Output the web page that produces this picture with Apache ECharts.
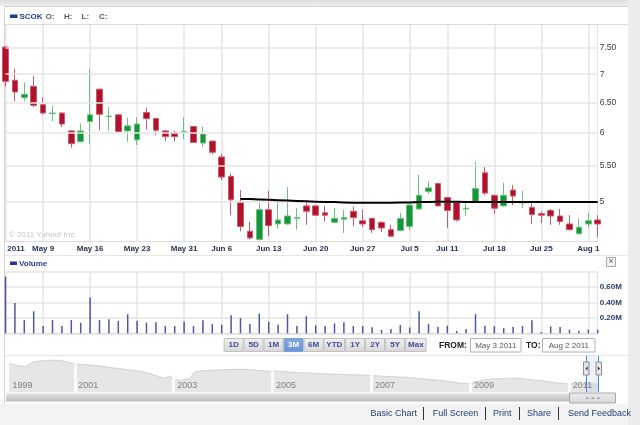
<!DOCTYPE html>
<html><head><meta charset="utf-8">
<script src="https://cdn.jsdelivr.net/npm/echarts@6/dist/echarts.min.js"></script>
<style>html,body{margin:0;padding:0;background:#fff;}#c{width:640px;height:425px;}</style>
</head><body><div id="c"></div>
<script>
const dates = ['May 3','May 4','May 5','May 6','May 9','May 10','May 11','May 12','May 13',
'May 16','May 17','May 18','May 19','May 20','May 23','May 24','May 25','May 26','May 27',
'May 31','Jun 1','Jun 2','Jun 3','Jun 6','Jun 7','Jun 8','Jun 9','Jun 10',
'Jun 13','Jun 14','Jun 15','Jun 16','Jun 17','Jun 20','Jun 21','Jun 22','Jun 23','Jun 24',
'Jun 27','Jun 28','Jun 29','Jun 30','Jul 1','Jul 5','Jul 6','Jul 7','Jul 8',
'Jul 11','Jul 12','Jul 13','Jul 14','Jul 15','Jul 18','Jul 19','Jul 20','Jul 21','Jul 22',
'Jul 25','Jul 26','Jul 27','Jul 28','Jul 29','Aug 1','Aug 2'];
const open  = [7.52,6.89,6.58,6.78,6.46,6.31,6.32,6.03,5.86,6.18,6.73,6.26,6.29,6.03,5.89,6.33,6.23,6.03,6.00,6.01,6.10,5.84,5.87,5.63,5.35,5.00,4.63,4.53,4.90,4.72,4.72,4.79,4.95,4.95,4.86,4.74,4.78,4.88,4.76,4.79,4.74,4.65,4.64,4.69,4.91,5.14,5.25,5.06,5.00,4.91,5.00,5.40,5.09,4.95,5.16,4.99,4.93,4.85,4.89,4.82,4.72,4.60,4.72,4.77];
const close = [6.87,6.68,6.64,6.45,6.32,6.32,6.14,5.83,6.03,6.29,6.30,6.27,6.02,6.11,6.14,6.23,6.04,5.94,5.94,6.02,5.85,5.98,5.70,5.34,5.03,4.69,4.55,4.90,4.70,4.77,4.82,4.80,4.88,4.83,4.83,4.79,4.80,4.80,4.72,4.65,4.67,4.57,4.79,4.96,5.09,5.19,4.95,4.89,4.77,4.92,5.18,5.12,4.92,5.09,5.08,5.00,4.84,4.83,4.82,4.75,4.65,4.68,4.76,4.72];
const low   = [6.78,6.52,6.52,6.42,6.30,6.19,6.09,5.77,5.85,5.83,6.04,6.04,6.01,5.86,5.81,6.05,5.96,5.87,5.87,5.90,5.84,5.78,5.67,5.30,4.83,4.63,4.53,4.52,4.57,4.66,4.71,4.65,4.71,4.82,4.75,4.73,4.61,4.69,4.68,4.61,4.62,4.56,4.63,4.64,4.90,5.11,4.94,4.67,4.75,4.82,4.99,5.09,4.85,4.94,4.96,4.92,4.72,4.73,4.71,4.71,4.64,4.59,4.68,4.56];
const high  = [7.53,7.10,6.85,6.97,6.59,6.44,6.33,6.04,6.15,7.09,6.74,6.42,6.30,6.24,6.25,6.41,6.24,6.04,6.03,6.25,6.11,6.10,5.88,5.68,5.39,5.16,4.75,5.00,5.15,5.01,5.20,4.92,5.00,4.96,4.95,4.92,4.90,4.94,4.90,4.80,4.75,4.71,4.86,4.98,5.37,5.28,5.26,5.07,5.01,4.98,5.56,5.49,5.10,5.26,5.23,5.15,4.98,4.88,4.91,4.91,4.83,4.79,4.86,4.83];
const volumeM = [0.735,0.393,0.171,0.286,0.094,0.171,0.094,0.171,0.137,0.466,0.171,0.184,0.162,0.248,0.162,0.137,0.145,0.094,0.094,0.150,0.094,0.171,0.120,0.111,0.235,0.197,0.120,0.256,0.150,0.111,0.248,0.094,0.222,0.103,
0.094,0.128,0.145,0.094,0.094,0.077,0.043,0.056,0.107,0.077,0.286,0.120,0.081,0.098,0.030,0.056,0.248,0.098,0.094,0.068,0.081,0.094,0.171,0.017,0.090,0.081,0.047,0.030,0.047,0.047];
const avgLine = [null,null,null,null,null,null,null,null,null,null,null,null,null,null,null,null,null,null,null,null,null,null,null,null,null,
5.04,5.04,5.035,5.03,5.025,5.02,5.015,5.01,5.005,5.0,5.0,4.995,4.99,4.99,4.99,4.99,4.99,4.995,4.995,5.0,5.0,5.005,5.005,5.005,5.0,5.0,5.0,5.0,5.0,5.0,5.0,5.0,5.0,5.0,5.0,5.0,5.0,5.0,5.0];
const tickDates  = ['May 3','May 9','May 16','May 23','May 31','Jun 6','Jun 13','Jun 20','Jun 27','Jul 5','Jul 11','Jul 18','Jul 25','Aug 1'];
const tickLabels = ['2011','May 9','May 16','May 23','May 31','Jun 6','Jun 13','Jun 20','Jun 27','Jul 5','Jul 11','Jul 18','Jul 25','Aug 1'];
const priceTicks = [5, 5.5, 6, 6.5, 7, 7.5];
const navYears = [1999.67,1999.79,1999.99,2000.15,2000.29,2000.49,2000.70,2000.80,2000.98,2001.10,2001.30,2001.51,2001.71,2001.91,2002.11,2002.31,2002.52,2002.62,2002.72,2002.82,2002.92,2003.02,2003.16,2003.32,2003.42,2003.53,2003.73,2003.93,2004.13,2004.33,2004.54,2004.74,2004.94,2005.14,2005.34,2005.55,2005.75,2005.95,2006.15,2006.35,2006.56,2006.76,2006.96,2007.16,2007.36,2007.57,2007.77,2007.97,2008.17,2008.37,2008.58,2008.78,2008.94,2009.08,2009.28,2009.48,2009.69,2009.89,2010.09,2010.29,2010.49,2010.70,2010.90,2011.10,2011.30,2011.51,2011.58];
const navValues = [28.3,27,25,30,31,31.7,31.5,30.7,28.3,27.7,27,26,24.5,23.3,22,20.7,18.5,16.7,15,14,16,12,12,13.3,20,21,21.7,22,22.5,22.7,22.5,21.5,20.7,20.7,20,19.3,19,18.3,18,17.7,17.2,17,16.7,16,15.5,15,14.5,13.5,12.5,11.7,10.5,9,8.3,10,12,13,13.5,14,13,12,11,9.5,8.3,8,8,8,8];
const navSeparators = [2001,2003,2005,2007,2009,2011];
const navLabelYears = [1999.67,2001,2003,2005,2007,2009,2011];
const rangeButtons = ['1D','5D','1M','3M','6M','YTD','1Y','2Y','5Y','Max'];
const activeRange = '3M';
const fromText = 'May 3 2011', toText = 'Aug 2 2011';
const links = ['Basic Chart','Full Screen','Print','Share','Send Feedback'];

const FONT = '"Liberation Sans", Arial, sans-serif';
const showTick = (i, v) => tickDates.indexOf(v === undefined ? dates[i] : v) >= 0;
const fmtPrice = v => (Math.abs(v - Math.round(v)) < 1e-9 ? String(Math.round(v)) : v.toFixed(2));

const chart = echarts.init(document.getElementById('c'), null, {renderer: 'canvas'});

// ---------- decorative page elements ----------
const g = [];
g.push({type:'rect', shape:{x:0,y:0,width:640,height:6.5}, style:{fill:new echarts.graphic.LinearGradient(0,0,0,1,[{offset:0,color:'#dedede'},{offset:1,color:'#f0f0f0'}])}, z:-10});
g.push({type:'rect', shape:{x:628,y:0,width:12,height:425}, style:{fill:'#ececec'}, z:-10});
g.push({type:'rect', shape:{x:0,y:404,width:628,height:21}, style:{fill:'#f3f3f3'}, z:-10});
g.push({type:'line', shape:{x1:4.5,y1:6.5,x2:4.5,y2:404}, style:{stroke:'#d3d3d3',lineWidth:1}, z:-5});
g.push({type:'line', shape:{x1:4.5,y1:6.5,x2:628,y2:6.5}, style:{stroke:'#d3d3d3',lineWidth:1}, z:-5});
g.push({type:'line', shape:{x1:5,y1:24.5,x2:628,y2:24.5}, style:{stroke:'#dadada',lineWidth:1}, z:-5});
g.push({type:'line', shape:{x1:5,y1:255.5,x2:628,y2:255.5}, style:{stroke:'#e6e6e6',lineWidth:1}, z:-5});
g.push({type:'line', shape:{x1:5,y1:355.5,x2:628,y2:355.5}, style:{stroke:'#e2e2e2',lineWidth:1}, z:-5});
// legend
g.push({type:'rect', shape:{x:10,y:14.5,width:7.5,height:3.5}, style:{fill:'#26368c'}});
g.push({type:'text', x:19.5, y:16.5, style:{text:'SCOK', fill:'#2b3d92', font:'bold 8px '+FONT, verticalAlign:'middle'}});
[['O:',45.5],['H:',64],['L:',81.5],['C:',99]].forEach(a => g.push({type:'text', x:a[1], y:16.5, style:{text:a[0], fill:'#5a5a5a', font:'bold 8px '+FONT, verticalAlign:'middle'}}));
g.push({type:'text', x:9, y:235, style:{text:'\u00a9 2011 Yahoo! Inc.', fill:'#c4c4c4', font:'8px '+FONT, verticalAlign:'middle'}});
// volume header
g.push({type:'rect', shape:{x:10,y:261.5,width:7,height:3.5}, style:{fill:'#26368c'}});
g.push({type:'text', x:19, y:263.5, style:{text:'Volume', fill:'#2b3d92', font:'bold 8px '+FONT, verticalAlign:'middle'}});
g.push({type:'rect', shape:{x:606.5,y:257.5,width:9,height:9}, style:{fill:'#f4f4f4', stroke:'#a9a9a9', lineWidth:1}});
g.push({type:'text', x:611, y:262, style:{text:'\u00d7', fill:'#666', font:'9px '+FONT, align:'center', verticalAlign:'middle'}});
// range buttons
let bx = 223.6;
rangeButtons.forEach(lbl => {
  const w = lbl.length === 3 ? 21.5 : 20;
  const act = lbl === activeRange;
  g.push({type:'rect', shape:{x:bx+0.5,y:338.5,width:w-1,height:13}, style:{
    fill: act ? new echarts.graphic.LinearGradient(0,0,0,1,[{offset:0,color:'#86acdf'},{offset:1,color:'#6792d2'}])
              : new echarts.graphic.LinearGradient(0,0,0,1,[{offset:0,color:'#f2f2f2'},{offset:1,color:'#d6d6d6'}]),
    stroke: act ? '#7a9fd6' : '#c2c2c2', lineWidth:1}});
  g.push({type:'text', x:bx+w/2, y:345.2, style:{text:lbl, fill: act ? '#ffffff' : '#3b4d9c', font:'bold 8px '+FONT, align:'center', verticalAlign:'middle'}});
  bx += w;
});
g.push({type:'text', x:439, y:345.2, style:{text:'FROM:', fill:'#222', font:'bold 8.5px '+FONT, verticalAlign:'middle'}});
g.push({type:'rect', shape:{x:470.5,y:338.5,width:50.5,height:13.5}, style:{fill:'#fff', stroke:'#b3b3b3', lineWidth:1}});
g.push({type:'text', x:495.8, y:345.4, style:{text:fromText, fill:'#555', font:'8px '+FONT, align:'center', verticalAlign:'middle'}});
g.push({type:'text', x:526, y:345.2, style:{text:'TO:', fill:'#222', font:'bold 8.5px '+FONT, verticalAlign:'middle'}});
g.push({type:'rect', shape:{x:542.5,y:338.5,width:52.5,height:13.5}, style:{fill:'#fff', stroke:'#b3b3b3', lineWidth:1}});
g.push({type:'text', x:568.8, y:345.4, style:{text:toText, fill:'#555', font:'8px '+FONT, align:'center', verticalAlign:'middle'}});
// navigator scrollbar and handles
g.push({type:'rect', shape:{x:6,y:392.5,width:592,height:9}, style:{fill:new echarts.graphic.LinearGradient(0,0,0,1,[{offset:0,color:'#f4f4f4'},{offset:0.3,color:'#d9d9d9'},{offset:1,color:'#bcbcbc'}])}});
g.push({type:'rect', shape:{x:587,y:356,width:11.5,height:36}, style:{fill:'rgba(120,160,225,0.13)'}, z:5});
g.push({type:'line', shape:{x1:586.5,y1:356,x2:586.5,y2:392}, style:{stroke:'#3c8ee8',lineWidth:1}, z:6});
g.push({type:'line', shape:{x1:598.5,y1:356,x2:598.5,y2:392}, style:{stroke:'#3c8ee8',lineWidth:1}, z:6});
g.push({type:'rect', shape:{x:583.5,y:362,width:5.5,height:13}, style:{fill:'#e6e6e6', stroke:'#8e8e8e', lineWidth:1}, z:7});
g.push({type:'rect', shape:{x:596,y:362,width:5.5,height:13}, style:{fill:'#e6e6e6', stroke:'#8e8e8e', lineWidth:1}, z:7});
g.push({type:'polygon', shape:{points:[[587.5,366.5],[587.5,370.5],[585.3,368.5]]}, style:{fill:'#333'}, z:8});
g.push({type:'polygon', shape:{points:[[597.8,366.5],[597.8,370.5],[600,368.5]]}, style:{fill:'#333'}, z:8});
g.push({type:'rect', shape:{x:569.5,y:393,width:46,height:10}, style:{fill:new echarts.graphic.LinearGradient(0,0,0,1,[{offset:0,color:'#ececec'},{offset:1,color:'#d6d6d6'}]), stroke:'#a9a9a9', lineWidth:1}, z:7});
[586,591.5,597].forEach(x => g.push({type:'rect', shape:{x:x,y:397.5,width:2.5,height:1.5}, style:{fill:'#9a9a9a'}, z:8}));
// bottom links
const linkX = [370.5, 432.8, 493, 527, 568];
const sepX = [423.5, 485.5, 519.5, 558.5];
links.forEach((t,i) => g.push({type:'text', x:linkX[i], y:413.5, style:{text:t, fill:'#1f3d78', font:'9px '+FONT, verticalAlign:'middle'}}));
sepX.forEach(x => g.push({type:'line', shape:{x1:x,y1:407,x2:x,y2:420}, style:{stroke:'#333',lineWidth:1}}));

const gridLine = {color:'#e4e4e4', width:1.5};

const option = {
  animation: false,
  backgroundColor: '#ffffff',
  grid: [
    {left:5.5, right:42.3, top:25, height:216},
    {left:5.5, right:42.3, top:271.7, height:61.6},
    {left:9, right:42, top:356, height:36}
  ],
  xAxis: [
    {type:'category', gridIndex:0, data:dates, boundaryGap:false,
     axisLine:{show:true, lineStyle:{color:'#dcdcdc', width:1}}, axisTick:{show:false, interval:showTick},
     axisLabel:{interval:showTick, margin:4, fontSize:8, fontWeight:'bold', color:'#1f2e55', fontFamily:FONT,
       formatter:(v) => { const k = tickDates.indexOf(v); const s = tickLabels[k]; return k === 0 ? '{f|' + s + '}' : s; },
       rich:{f:{padding:[0,0,0,21], fontSize:8, fontWeight:'bold', color:'#1f2e55', fontFamily:FONT}}},
     splitLine:{show:true, interval:showTick, lineStyle:gridLine}},
    {type:'category', gridIndex:1, data:dates, boundaryGap:false,
     axisLine:{show:true, lineStyle:{color:'#dcdcdc', width:1}}, axisTick:{show:false, interval:showTick}, axisLabel:{show:false, interval:showTick},
     splitLine:{show:true, interval:showTick, lineStyle:gridLine}},
    {type:'value', gridIndex:2, min:1999.67, max:2011.58, z:10,
     axisLine:{show:false}, axisTick:{show:false},
     axisLabel:{show:true, inside:true, customValues:navLabelYears, formatter:(v) => String(Math.floor(v)),
       align:'left', padding:[0,0,0,3.5], margin:2, fontSize:9, color:'#808080', fontFamily:FONT},
     splitLine:{show:false}}
  ],
  yAxis: [
    {type:'log', gridIndex:0, min:4.513, max:7.968, position:'right',
     axisLine:{show:true, lineStyle:{color:'#e2e2e2'}}, axisTick:{show:false}, axisLabel:{show:false}, splitLine:{show:false}},
    {type:'value', gridIndex:1, min:0, max:0.8, interval:0.2, position:'right',
     axisLine:{show:true, lineStyle:{color:'#e2e2e2'}}, axisTick:{show:false},
     axisLabel:{showMinLabel:false, showMaxLabel:false, margin:2, fontSize:8, fontWeight:'bold', color:'#2b3a66', fontFamily:FONT,
       formatter:(v) => v.toFixed(2) + 'M'},
     splitLine:{show:true, lineStyle:gridLine}},
    {type:'value', gridIndex:2, min:0, max:36, show:false}
  ],
  series: [
    {type:'line', xAxisIndex:0, yAxisIndex:0, data:dates.map(() => null), z:1, silent:true, symbol:'none',
     markLine:{silent:true, symbol:['none','none'], animation:false,
       lineStyle:{color:'#e4e4e4', width:1.5, type:'solid'},
       label:{position:'end', distance:2, formatter:(p) => fmtPrice(p.value), color:'#3a3a3a', fontSize:8.5, fontFamily:FONT},
       emphasis:{disabled:true},
       data:priceTicks.map(v => ({yAxis:v}))}},
    {type:'candlestick', xAxisIndex:0, yAxisIndex:0, z:3, barWidth:6,
     data: open.map((o,i) => [o, close[i], low[i], high[i]]),
     itemStyle:{color:'#14973a', color0:'#b0122c', borderColor:'#6cbf7c', borderColor0:'#cc5a6a', borderWidth:1}},
    {type:'line', xAxisIndex:0, yAxisIndex:0, z:6, data:avgLine, symbol:'none', silent:true,
     lineStyle:{color:'#000000', width:2, opacity:1}, emphasis:{disabled:true}},
    {type:'bar', xAxisIndex:1, yAxisIndex:1, data:volumeM, barWidth:1.5, silent:true,
     itemStyle:{color:'#4c55a6'}},
    {type:'line', xAxisIndex:2, yAxisIndex:2, data:navYears.map((y,i) => [y, navValues[i]]), symbol:'none', silent:true, z:1,
     lineStyle:{color:'#d2d2d2', width:1}, areaStyle:{color:'#e6e6e6', opacity:1},
     markLine:{silent:true, symbol:['none','none'], animation:false, label:{show:false},
       lineStyle:{color:'#ffffff', width:2.5, type:'solid'}, emphasis:{disabled:true},
       data:navSeparators.map(v => ({xAxis:v}))}}
  ],
  graphic: g
};
chart.setOption(option);
</script>
</body></html>
